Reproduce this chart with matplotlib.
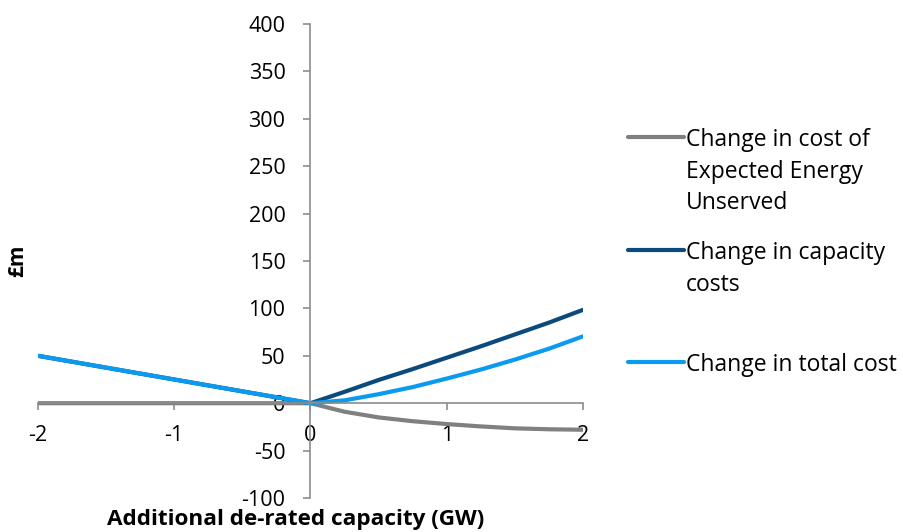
import matplotlib.pyplot as plt
from matplotlib.lines import Line2D

plt.rcParams['font.family'] = ['Open Sans', 'DejaVu Sans']
plt.rcParams['axes.unicode_minus'] = False

capacity_gw = [-2, -1.75, -1.5, -1.25, -1, -0.75, -0.5, -0.25, 0,
               0.25, 0.5, 0.75, 1, 1.25, 1.5, 1.75, 2]
eeu_cost = [0, 0, 0, 0, 0, 0, 0, 0, 0,
            -9, -15, -19, -22, -24.5, -26.5, -27.5, -28]
capacity_cost = [50, 43.75, 37.5, 31.25, 25, 18.75, 12.5, 6.25, 0,
                 12, 24.5, 36, 48, 60, 72.5, 85, 98.5]
total_cost = [50, 43.75, 37.5, 31.25, 25, 18.75, 12.5, 6.25, 0,
              3, 9.5, 17, 26, 35.5, 46, 57.5, 70.5]

series_names = ["Change in cost of\nExpected Energy\nUnserved",
                "Change in capacity\ncosts",
                "Change in total cost"]
colors = ["#808080", "#0B4A7D", "#0A9AF0"]

fig = plt.figure(figsize=(9.04, 5.32), dpi=100)
ax = fig.add_axes([38 / 904, 1 - 498 / 532, 545 / 904, 474 / 532])

ax.plot(capacity_gw, eeu_cost, color=colors[0], lw=3, solid_capstyle='round')
ax.plot(capacity_gw, capacity_cost, color=colors[1], lw=3, solid_capstyle='round')
ax.plot(capacity_gw, total_cost, color=colors[2], lw=3, solid_capstyle='round')

ax.set_xlim(-2, 2)
ax.set_ylim(-100, 400)
ax.set_xticks([-2, -1, 0, 1, 2])
ax.set_yticks(range(-100, 401, 50))
ax.spines['left'].set_position(('data', 0))
ax.spines['bottom'].set_position(('data', 0))
ax.spines['right'].set_visible(False)
ax.spines['top'].set_visible(False)
for s in ['left', 'bottom']:
    ax.spines[s].set_color('#8c8c8c')
    ax.spines[s].set_linewidth(1.2)
ax.tick_params(axis='y', direction='out', length=5, width=1.2, color='#8c8c8c',
               labelsize=15.5, pad=13)
ax.tick_params(axis='x', direction='out', length=5, width=1.2, color='#8c8c8c',
               labelsize=15.5, pad=11)

fig.text(18 / 904, 1 - 261 / 532, "£m", rotation=90, ha='center', va='center',
         fontsize=15, fontweight='bold')
fig.text(296 / 904, 1 - 520 / 532, "Additional de-rated capacity (GW)",
         ha='center', va='center', fontsize=16.2, fontweight='bold')

# legend drawn by hand so the handle sits on the first line
legend_y = [137, 250, 362]
for name, c, y in zip(series_names, colors, legend_y):
    yf = 1 - y / 532
    fig.add_artist(Line2D([628 / 904, 684 / 904], [yf, yf], color=c, lw=3,
                          solid_capstyle='round'))
    fig.text(686 / 904, yf + 9 / 532, name, ha='left', va='top', fontsize=16.5,
             linespacing=1.43)

fig.savefig("out.png", dpi=100)
